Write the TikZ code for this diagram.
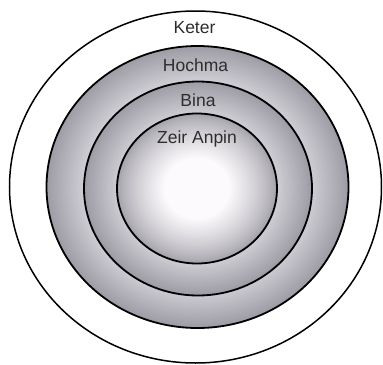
\documentclass[tikz,border=0pt]{standalone}
\usepackage{fontspec}
\setmainfont{Liberation Sans}
\definecolor{bandlight}{RGB}{208,206,213}
\definecolor{banddark}{RGB}{158,156,164}
\definecolor{coreedge}{RGB}{165,163,171}
\definecolor{corewhite}{RGB}{253,250,253}
\definecolor{labelcol}{RGB}{45,45,45}
\tikzset{
  ring/.style={draw=black, line width=1.8bp},
  outerring/.style={draw=black, line width=1.5bp},
  lbl/.style={text=labelcol, font=\fontsize{17.5bp}{20bp}\selectfont, anchor=base, inner sep=0pt}
}
\begin{document}
\begin{tikzpicture}[x=1bp,y=-1bp]
\useasboundingbox (0,0) rectangle (383,365);
\fill[white] (0,0) rectangle (383,365);
% outer (Keter)
\path[outerring] (195.5,187) ellipse [x radius=186, y radius=176];
% Hochma band shading
\coordinate (ch) at (197.5,187);
\foreach \i in {0,...,30}{
  \pgfmathsetmacro\f{1-\i*0.245/30}
  \pgfmathsetmacro\c{100*\i/30}
  \fill[bandlight!\c!banddark] (ch) ellipse [x radius=151*\f, y radius=141*\f];
}
\path[ring] (ch) ellipse [x radius=151, y radius=141];
% Bina band shading
\coordinate (cb) at (198,188.5);
\foreach \i in {0,...,30}{
  \pgfmathsetmacro\f{1-\i*0.30/30}
  \pgfmathsetmacro\c{100*\i/30}
  \fill[bandlight!\c!banddark] (cb) ellipse [x radius=114*\f, y radius=107*\f];
}
\path[ring] (cb) ellipse [x radius=114, y radius=107];
% Zeir Anpin core shading
\coordinate (cz) at (197,188.5);
\foreach \i in {0,...,40}{
  \pgfmathsetmacro\f{1-\i/41}
  \pgfmathsetmacro\c{min(100,100*(\i/24)^0.8)}
  \fill[corewhite!\c!coreedge] (cz) ellipse [x radius=80*\f, y radius=75*\f];
}
\path[ring] (cz) ellipse [x radius=80, y radius=75];
% labels
\node[lbl] (keter) at (194.5,33) {Keter};
\node[lbl] (hochma) at (195.5,71) {Hochma};
\node[lbl] (bina) at (198,106) {Bina};
\node[lbl] (zeir) at (197,143) {Zeir Anpin};
\end{tikzpicture}
\end{document}
